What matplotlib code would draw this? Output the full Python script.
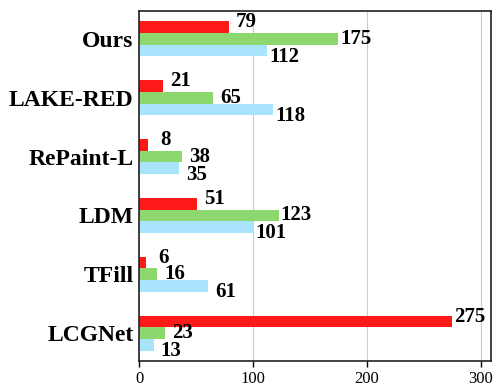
import matplotlib as mpl
mpl.use('Agg')
import matplotlib.pyplot as plt
import numpy as np

methods = ['Ours', 'LAKE-RED', 'RePaint-L', 'LDM', 'TFill', 'LCGNet']
red_vals = [79, 21, 8, 51, 6, 275]
green_vals = [175, 65, 38, 123, 16, 23]
blue_vals = [112, 118, 35, 101, 61, 13]

plt.rcParams['font.family'] = ['Liberation Serif', 'DejaVu Serif']

fig = plt.figure(figsize=(4.98, 3.9), dpi=100)
ax = fig.add_axes([139/498, 29/390, 352/498, 350/390])

y = np.arange(len(methods))[::-1]
h = 0.2
series = [(red_vals, '#ff1a1a', h, 3.5),
          (green_vals, '#8cd76e', 0, 0),
          (blue_vals, '#a8e5fd', -h, -4.5)]

for vals, col, dy, voff in series:
    ax.barh(y + dy, vals, height=h, color=col, zorder=2)
    for yy, v in zip(y, vals):
        ax.annotate(str(v), (v, yy + dy), xytext=(12.5, voff),
                    textcoords='offset points', ha='center', va='center',
                    fontsize=15, fontweight='bold', zorder=3)

ax.set_xlim(0, 309)
ax.set_ylim(-0.47, 5.47)
ax.set_xticks([0, 100, 200, 300])
ax.set_yticks(y)
ax.set_yticklabels(methods, fontsize=17, fontweight='bold')
ax.tick_params(axis='y', length=0, pad=4)
ax.tick_params(axis='x', labelsize=12, length=4, width=1)
ax.grid(axis='x', color='#cccccc', linewidth=0.8, zorder=0)
for s in ax.spines.values():
    s.set_linewidth(1.2)
    s.set_color('#222222')

fig.savefig('out.png', dpi=100)
